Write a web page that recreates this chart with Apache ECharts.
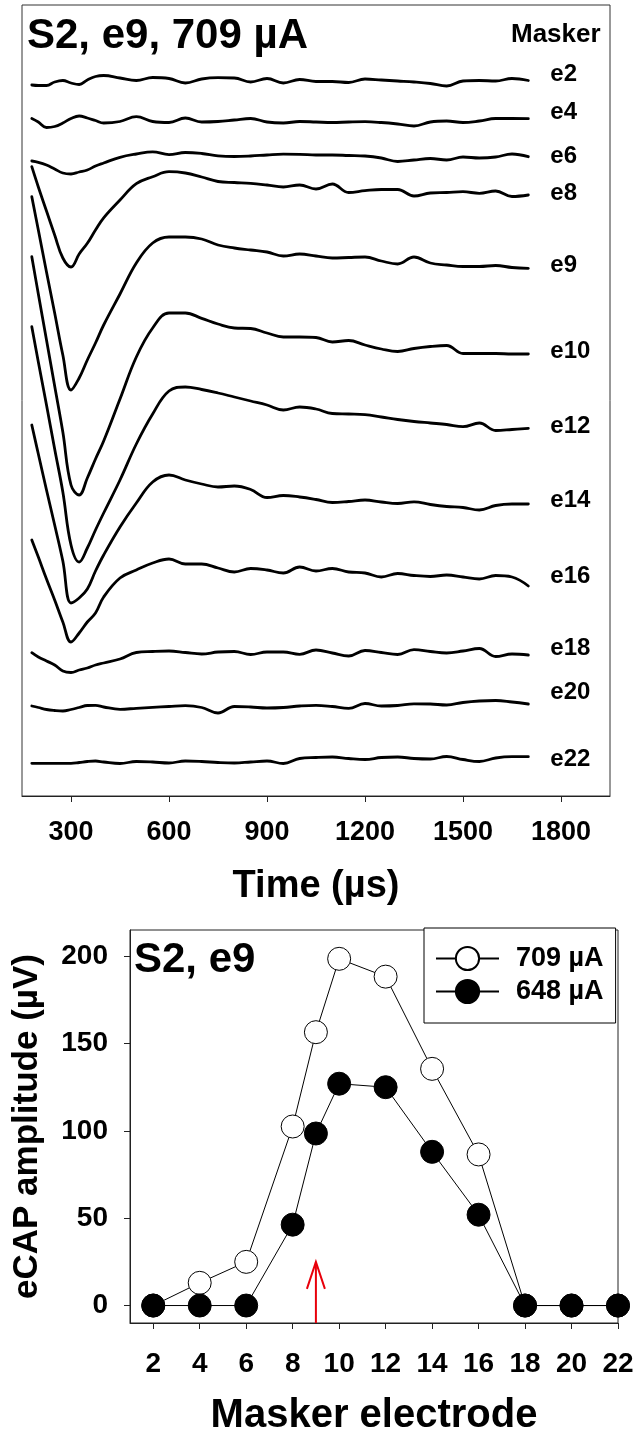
<!DOCTYPE html>
<html>
<head>
<meta charset="utf-8">
<script src="https://cdn.jsdelivr.net/npm/echarts@6/dist/echarts.min.js"></script>
<style>
html,body{margin:0;padding:0;background:#fff;}
#chart{width:638px;height:1437px;}
</style>
</head>
<body>
<div id="chart"></div>
<script>
// ---------- Top panel: eCAP waveforms (vertical display position of each trace) ----------
const times = [180,200,225,250,275,300,325,350,375,400,450,500,550,600,650,700,750,800,850,900,950,1000,1050,1100,1150,1200,1250,1300,1350,1400,1450,1500,1550,1600,1650,1700];
const traceNames = ['e2','e4','e6','e8','e9','e10','e12','e14','e16','e18','e20','e22'];
const e2  = [85,85.5,85.5,82,80.5,83,84.5,80,76.5,75.5,78,80.5,77.5,78.5,83,79,77.7,78,82,78.5,83,79.5,81.5,81.5,82.5,79,80,81,82,83.5,86,81,80.5,81,78.5,80.5];
const e4  = [118.5,122,127.5,126.5,123,118.5,116,118,120.5,123,121.5,116.7,121.5,122.5,118,122,121.5,120,118.5,122,123,121.5,122,122.5,122,121.7,122.5,124,126,122,121,122.5,121,118.5,118.5,118.7];
const e6  = [161,162.3,165,169,173,174,172,170,166,163,157.3,154,151.8,154.6,152.5,153.5,155.8,156.5,156,155,154.2,154.3,155,155,155.5,156,158,161.5,160,158.5,160,157,158,157,154,156.7];
const e8  = [166.7,187,211,235,258,267,254,243.3,230,217.8,200,183.7,176.7,171.7,173,177,181.5,182.5,183.3,185,187,185,189,184,192.5,190.7,189.5,189.5,196,193,192.5,191.7,193.3,191,196.5,195];
const e9  = [196.7,230,272,313,355,390,378,360,343,325,294,263,243,237,237,239,245,248,250,252,256,254,256,258,257.5,257,261,264,257,263,265,266.5,266.5,265.5,267.5,268.3];
const e10 = [256.7,294,340,386,432,485,495,478,459,441,399,357,328,313,313,318.3,324,328,328.5,333,337,337,337.5,342,340.5,345,349,351.5,348.5,346.5,345.5,353.5,353.5,353.5,354,354];
const e12 = [326.7,362,405,449,492,545,562,548,530,513,480,444,414,391,387,389.5,393,397,401,405,410,407,409,413.5,414,414.7,417,419.5,421.5,423,424.5,426.7,423,430.5,429.5,428.3];
const e14 = [425,454,490,525,561,603,598,589,571,555,527,503,482,475,480,484,487,486,489.5,497.5,495.5,497,499.5,502.5,501.5,500,502,503.5,501.8,504.5,506.5,507.5,510,505.5,504,504];
const e16 = [540,557,579,600,622,642,633,622,613,597,578,570,563,559,564,564,568,572,568.5,570,573,567,571,568.5,572,573,577,573.5,575.5,576.5,575,577,579,575.5,577,586];
const e18 = [652.7,657,661,665,671,672.5,670,668,665,663,659,652.5,651.5,651,652.5,654,652,651.5,654.5,652,652,654.3,650,653,656,650.5,652.5,654.5,649.7,651.5,653,651,648.5,656.5,654,655];
const e20 = [706,707.5,709.5,710.5,711,709.5,707.5,705.5,705.3,707,709.3,708.3,707.3,706.5,705.7,707.5,713,706.5,707,708,707.5,706,705.3,706.5,708.3,703.5,706,705.5,703.8,704,705,702.5,701,700.5,702,704];
const e22 = [763.3,763.3,763.3,763.3,763.3,763.3,762.5,761.5,761,762,763.5,761.5,762,763,761,761.5,762.5,763,762,761,763.5,758.5,757.5,757,758.5,759.5,757.5,757,758.5,759,756.5,759.5,761.5,758,756.7,756.7];
const traces = [e2,e4,e6,e8,e9,e10,e12,e14,e16,e18,e20,e22];
const timeTicks = [300,600,900,1200,1500,1800];

// ---------- Bottom panel: eCAP amplitude vs masker electrode ----------
const electrodes = [2,4,6,8,9,10,12,14,16,18,20,22];
const amp709 = [0,13,25,102.5,156.5,198.5,188.3,135.5,86.5,0,0,0];
const amp648 = [0,0,0,46.3,98.5,127,125,88,52,0,0,0];
const electrodeTicks = [2,4,6,8,10,12,14,16,18,20,22];
const ampTicks = [0,50,100,150,200];
const probeElectrode = 9;      // red arrow (probe electrode)
const arrowTipAmp = 25;

// ---------- layout / style (not data) ----------
const FONT = 'Liberation Sans';
const labelDy = [-5.7,-6,0,-1.7,-3,-2.3,-1.6,-4,-9.3,-6.7,-11.3,2.3];
const plain = v => String(v);

const chart = echarts.init(document.getElementById('chart'), null, {renderer:'canvas'});

const traceSeries = traces.map((vals, i) => ({
  name: traceNames[i],
  type: 'line',
  xAxisIndex: 0, yAxisIndex: 0,
  data: times.map((t, k) => [t, vals[k]]),
  smooth: 0.4,
  showSymbol: false,
  symbol: 'none',
  silent: true,
  lineStyle: {color: '#000', width: 2.8, cap: 'round', join: 'round'},
  endLabel: {
    show: true, formatter: traceNames[i], distance: 5,
    offset: [17, labelDy[i]],
    color: '#000', fontSize: 24, fontWeight: 'bold', fontFamily: FONT
  }
}));

const option = {
  animation: false,
  backgroundColor: '#fff',
  textStyle: {fontFamily: FONT},
  title: [
    {text: 'S2, e9, 709 \u00b5A', left: 27, top: 15, padding: 0,
     textStyle: {fontSize: 42, fontWeight: 'bold', color: '#000', fontFamily: FONT}},
    {text: 'Masker', left: 511, top: 22, padding: 0,
     textStyle: {fontSize: 26, fontWeight: 'bold', color: '#000', fontFamily: FONT}},
    {text: 'S2, e9', left: 134, top: 939, padding: 0,
     textStyle: {fontSize: 42, fontWeight: 'bold', color: '#000', fontFamily: FONT}}
  ],
  legend: {
    data: ['709 \u00b5A', '648 \u00b5A'],
    orient: 'vertical',
    left: 424, top: 928,
    padding: [17, 12, 18, 11],
    itemWidth: 63, itemHeight: 29, itemGap: 6,
    borderColor: '#000', borderWidth: 1,
    backgroundColor: '#fff',
    textStyle: {fontSize: 27, fontWeight: 'bold', color: '#000', fontFamily: FONT, padding: [0,0,0,12]}
  },
  grid: [
    {left: 22, top: 5, width: 588, height: 791, show: true, borderColor: '#333', borderWidth: 1, backgroundColor: 'transparent'},
    {left: 130, top: 930, width: 488, height: 396, show: true, borderColor: '#222', borderWidth: 1, backgroundColor: 'transparent'}
  ],
  xAxis: [
    {
      gridIndex: 0, type: 'value', min: 150, max: 1950,
      name: 'Time (\u00b5s)', nameLocation: 'middle', nameGap: 72,
      nameTextStyle: {fontSize: 38, fontWeight: 'bold', color: '#000', fontFamily: FONT},
      axisLine: {show: true, onZero: false, lineStyle: {color: '#222', width: 1}},
      axisTick: {show: true, customValues: timeTicks, length: 6, inside: false, lineStyle: {color: '#222'}},
      axisLabel: {customValues: timeTicks, formatter: plain, margin: 23, fontSize: 27, fontWeight: 'bold', color: '#000', fontFamily: FONT},
      splitLine: {show: false}
    },
    {
      gridIndex: 1, type: 'value', min: 1, max: 22,
      name: 'Masker electrode', nameLocation: 'middle', nameGap: 73,
      nameTextStyle: {fontSize: 40, fontWeight: 'bold', color: '#000', fontFamily: FONT},
      axisLine: {show: true, onZero: false, lineStyle: {color: '#222', width: 1}},
      axisTick: {show: true, customValues: electrodeTicks, length: 6, lineStyle: {color: '#222'}},
      axisLabel: {customValues: electrodeTicks, formatter: plain, margin: 27, fontSize: 28, fontWeight: 'bold', color: '#000', fontFamily: FONT},
      splitLine: {show: false}
    }
  ],
  yAxis: [
    {gridIndex: 0, type: 'value', min: 5, max: 796, inverse: true, show: false, splitLine: {show: false}},
    {
      gridIndex: 1, type: 'value', min: -10, max: 215,
      name: 'eCAP amplitude (\u00b5V)', nameLocation: 'middle', nameGap: 85, nameRotate: 90,
      nameTextStyle: {fontSize: 35, fontWeight: 'bold', color: '#000', fontFamily: FONT},
      axisLine: {show: true, onZero: false, lineStyle: {color: '#222', width: 1}},
      axisTick: {show: true, customValues: ampTicks, length: 6, lineStyle: {color: '#222'}},
      axisLabel: {customValues: ampTicks, formatter: plain, margin: 22, fontSize: 28, fontWeight: 'bold', color: '#000', fontFamily: FONT},
      splitLine: {show: false}
    }
  ],
  series: traceSeries.concat([
    {
      name: '709 \u00b5A', type: 'line', xAxisIndex: 1, yAxisIndex: 1,
      data: electrodes.map((e, k) => [e, amp709[k]]),
      symbol: 'circle', symbolSize: 23, showAllSymbol: true, clip: false, z: 3,
      lineStyle: {color: '#000', width: 1},
      itemStyle: {color: '#fff', borderColor: '#000', borderWidth: 1}
    },
    {
      name: '648 \u00b5A', type: 'line', xAxisIndex: 1, yAxisIndex: 1,
      data: electrodes.map((e, k) => [e, amp648[k]]),
      symbol: 'circle', symbolSize: 23, showAllSymbol: true, clip: false, z: 4,
      lineStyle: {color: '#000', width: 1},
      itemStyle: {color: '#000', borderColor: '#000', borderWidth: 1}
    },
    {
      name: 'probe', type: 'custom', xAxisIndex: 1, yAxisIndex: 1,
      data: [[probeElectrode, arrowTipAmp]], silent: true, z: 5, clip: false,
      renderItem: function (params, api) {
        const tip = api.coord([api.value(0), api.value(1)]);
        const base = api.coord([api.value(0), -10]);
        const st = {stroke: '#e8000b', lineWidth: 2, fill: null};
        return {type: 'group', children: [
          {type: 'line', shape: {x1: base[0], y1: base[1], x2: tip[0], y2: tip[1]}, style: st},
          {type: 'polyline', shape: {points: [[tip[0]-9, tip[1]+27], [tip[0], tip[1]], [tip[0]+9, tip[1]+27]]}, style: st}
        ]};
      }
    }
  ])
};
chart.setOption(option);
</script>
</body>
</html>
